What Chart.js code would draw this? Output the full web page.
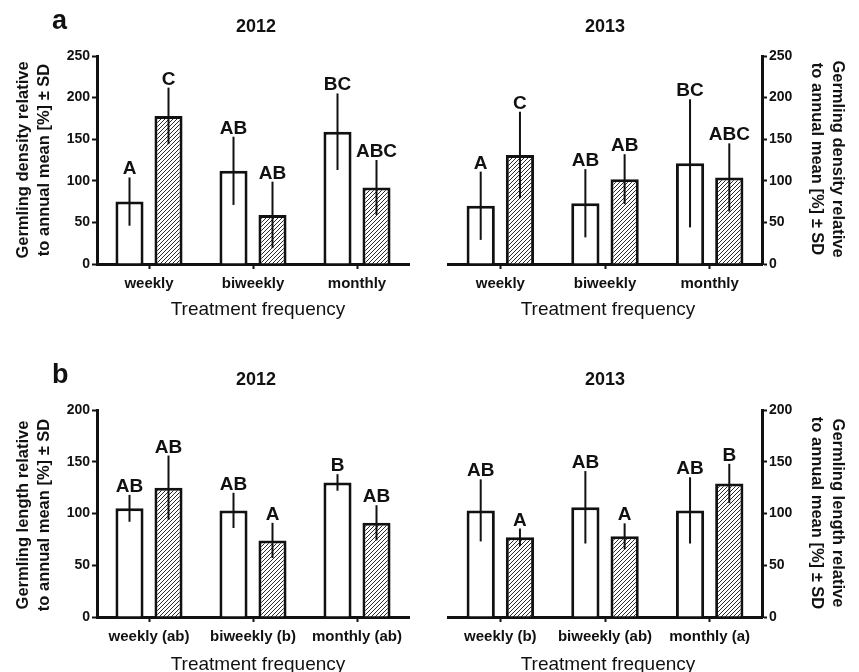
<!DOCTYPE html>
<html>
<head>
<meta charset="utf-8">
<script src="https://cdn.jsdelivr.net/npm/chart.js@4/dist/chart.umd.min.js"></script>
<style>
  html, body { margin: 0; padding: 0; background: #fff; }
  #wrap { position: relative; width: 859px; height: 672px; background: #fff; overflow: hidden; }
  canvas { position: absolute; }
</style>
</head>
<body>
<div id="wrap">
  <canvas id="aLeft" width="430" height="336" style="left:0;top:0"></canvas>
  <canvas id="aRight" width="429" height="336" style="left:430px;top:0"></canvas>
  <canvas id="bLeft" width="430" height="336" style="left:0;top:336px"></canvas>
  <canvas id="bRight" width="429" height="336" style="left:430px;top:336px"></canvas>
</div>
<script>
// ---------------- data ----------------
const categoriesA = ["weekly", "biweekly", "monthly"];
const categoriesB2012 = ["weekly (ab)", "biweekly (b)", "monthly (ab)"];
const categoriesB2013 = ["weekly (b)", "biweekly (ab)", "monthly (a)"];
const yTicksDensity = [0, 50, 100, 150, 200, 250];
const yTicksLength = [0, 50, 100, 150, 200];

// germling density 2012
const density2012Open = [75, 112, 159];
const density2012OpenSD = [29, 41, 46];
const density2012OpenLetters = ["A", "AB", "BC"];
const density2012Hatched = [178, 59, 92];
const density2012HatchedSD = [34, 40, 33];
const density2012HatchedLetters = ["C", "AB", "ABC"];

// germling density 2013
const density2013Open = [70, 73, 121];
const density2013OpenSD = [41, 41, 77];
const density2013OpenLetters = ["A", "AB", "BC"];
const density2013Hatched = [131, 102, 104];
const density2013HatchedSD = [52, 30, 41];
const density2013HatchedLetters = ["C", "AB", "ABC"];

// germling length 2012
const length2012Open = [105, 103, 130];
const length2012OpenSD = [13, 17, 8];
const length2012OpenLetters = ["AB", "AB", "B"];
const length2012Hatched = [125, 74, 91];
const length2012HatchedSD = [31, 17, 17];
const length2012HatchedLetters = ["AB", "A", "AB"];

// germling length 2013
const length2013Open = [103, 106, 103];
const length2013OpenSD = [30, 35, 32];
const length2013OpenLetters = ["AB", "AB", "AB"];
const length2013Hatched = [77, 78, 129];
const length2013HatchedSD = [8.5, 12.5, 19];
const length2013HatchedLetters = ["A", "A", "B"];

const yTitleDensity = ["Germling density relative", "to annual mean [%] \u00b1 SD"];
const yTitleLength = ["Germling length relative", "to annual mean [%] \u00b1 SD"];
const xTitle = "Treatment frequency";

// ---------------- styling ----------------
const FONT = "'Liberation Sans', Arial, Helvetica, sans-serif";
const INK = "#111111";
Chart.defaults.font.family = FONT;
Chart.defaults.color = INK;

function makeHatch() {
  const c = document.createElement('canvas');
  c.width = 4; c.height = 4;
  const g = c.getContext('2d');
  g.fillStyle = '#ffffff';
  g.fillRect(0, 0, 4, 4);
  g.strokeStyle = '#2a2a2a';
  g.lineWidth = 1;
  g.beginPath();
  g.moveTo(0, 4); g.lineTo(4, 0);
  g.moveTo(-1, 1); g.lineTo(1, -1);
  g.moveTo(3, 5); g.lineTo(5, 3);
  g.stroke();
  return g.createPattern(c, 'repeat');
}
const hatch = makeHatch();

// error bars + significance letters
const errorPlugin = {
  id: 'errorLetters',
  afterDatasetsDraw(chart) {
    const ctx = chart.ctx;
    const ys = chart.scales.y;
    chart.data.datasets.forEach((ds, i) => {
      const meta = chart.getDatasetMeta(i);
      meta.data.forEach((el, j) => {
        const v = ds.data[j], sd = ds.errors[j];
        const top = ys.getPixelForValue(v + sd);
        const bot = ys.getPixelForValue(v - sd);
        ctx.save();
        ctx.strokeStyle = INK;
        ctx.lineWidth = 2;
        ctx.beginPath();
        ctx.moveTo(el.x, bot);
        ctx.lineTo(el.x, top);
        ctx.stroke();
        ctx.fillStyle = INK;
        ctx.font = "bold 19px " + FONT;
        ctx.textAlign = 'center';
        ctx.textBaseline = 'alphabetic';
        ctx.fillText(ds.letters[j], el.x, top - 3);
        ctx.restore();
      });
    });
  }
};

// titles and axis titles
const textPlugin = {
  id: 'panelText',
  afterDraw(chart, args, o) {
    const ctx = chart.ctx;
    ctx.save();
    ctx.fillStyle = INK;
    // year title
    ctx.font = "bold 18px " + FONT;
    ctx.textAlign = 'center';
    ctx.textBaseline = 'alphabetic';
    ctx.fillText(o.title, o.titleX, o.titleY);
    // panel letter
    if (o.letter) {
      ctx.font = "bold 27px " + FONT;
      ctx.textAlign = 'left';
      ctx.fillText(o.letter, o.letterX, o.letterY);
    }
    // x title
    ctx.font = "19px " + FONT;
    ctx.textAlign = 'center';
    ctx.fillText(o.xTitle, o.xTitleX, o.xTitleY);
    // y title
    ctx.font = "bold 16.5px " + FONT;
    ctx.textAlign = 'center';
    ctx.textBaseline = 'middle';
    o.yTitle.forEach((line, k) => {
      ctx.save();
      if (o.side === 'left') {
        ctx.translate(o.yTitleX + k * 21, o.yTitleY);
        ctx.rotate(-Math.PI / 2);
      } else {
        ctx.translate(o.yTitleX - k * 21, o.yTitleY);
        ctx.rotate(Math.PI / 2);
      }
      ctx.fillText(line, 0, 0);
      ctx.restore();
    });
    ctx.restore();
  }
};

function build(id, cfg) {
  const side = cfg.side;
  const ticks = cfg.ticks;
  return new Chart(document.getElementById(id), {
    type: 'bar',
    data: {
      labels: cfg.labels,
      datasets: [
        { data: cfg.open, errors: cfg.openSD, letters: cfg.openLetters,
          backgroundColor: '#ffffff', borderColor: INK, borderWidth: 3 },
        { data: cfg.hatched, errors: cfg.hatchedSD, letters: cfg.hatchedLetters,
          backgroundColor: hatch, borderColor: INK, borderWidth: 3 }
      ]
    },
    options: {
      responsive: false,
      animation: false,
      events: [],
      layout: { padding: cfg.padding },
      plugins: {
        legend: { display: false },
        tooltip: { enabled: false },
        title: { display: false },
        panelText: cfg.text
      },
      datasets: { bar: { categoryPercentage: 0.75, barPercentage: 0.72 } },
      scales: {
        x: {
          type: 'category',
          offset: true,
          grid: { display: true, drawOnChartArea: false, drawTicks: true, offset: false,
                  tickLength: 5, tickWidth: 2, tickColor: INK, color: INK },
          border: { display: true, width: 3, color: INK },
          ticks: { font: { size: 15, weight: 'bold' }, color: INK, padding: 6, maxRotation: 0, autoSkip: false },
          afterFit: s => { s.height = cfg.xHeight; }
        },
        y: {
          position: side,
          min: ticks[0],
          max: ticks[ticks.length - 1],
          afterBuildTicks: s => { s.ticks = ticks.map(v => ({ value: v })); },
          grid: { display: true, drawOnChartArea: false, drawTicks: true,
                  tickLength: 5, tickWidth: 2, tickColor: INK, color: INK },
          border: { display: true, width: 3, color: INK },
          ticks: { font: { size: 14, weight: 'bold' }, color: INK, padding: 2 },
          afterFit: s => { s.width = 97; }
        }
      }
    },
    plugins: [errorPlugin, textPlugin]
  });
}

build('aLeft', {
  side: 'left', ticks: yTicksDensity, labels: categoriesA,
  open: density2012Open, openSD: density2012OpenSD, openLetters: density2012OpenLetters,
  hatched: density2012Hatched, hatchedSD: density2012HatchedSD, hatchedLetters: density2012HatchedLetters,
  padding: { left: 0, right: 21, top: 56, bottom: 0 }, xHeight: 72,
  text: { title: "2012", titleX: 256, titleY: 32, letter: "a", letterX: 52, letterY: 29,
          xTitle: xTitle, xTitleX: 258, xTitleY: 315,
          yTitle: yTitleDensity, side: 'left', yTitleX: 23, yTitleY: 160 }
});

build('aRight', {
  side: 'right', ticks: yTicksDensity, labels: categoriesA,
  open: density2013Open, openSD: density2013OpenSD, openLetters: density2013OpenLetters,
  hatched: density2013Hatched, hatchedSD: density2013HatchedSD, hatchedLetters: density2013HatchedLetters,
  padding: { left: 18, right: 0, top: 56, bottom: 0 }, xHeight: 72,
  text: { title: "2013", titleX: 175, titleY: 32, letter: null,
          xTitle: xTitle, xTitleX: 178, xTitleY: 315,
          yTitle: yTitleDensity, side: 'right', yTitleX: 408, yTitleY: 159 }
});

build('bLeft', {
  side: 'left', ticks: yTicksLength, labels: categoriesB2012,
  open: length2012Open, openSD: length2012OpenSD, openLetters: length2012OpenLetters,
  hatched: length2012Hatched, hatchedSD: length2012HatchedSD, hatchedLetters: length2012HatchedLetters,
  padding: { left: 0, right: 21, top: 74, bottom: 0 }, xHeight: 55,
  text: { title: "2012", titleX: 256, titleY: 49, letter: "b", letterX: 52, letterY: 47,
          xTitle: xTitle, xTitleX: 258, xTitleY: 334,
          yTitle: yTitleLength, side: 'left', yTitleX: 23, yTitleY: 179 }
});

build('bRight', {
  side: 'right', ticks: yTicksLength, labels: categoriesB2013,
  open: length2013Open, openSD: length2013OpenSD, openLetters: length2013OpenLetters,
  hatched: length2013Hatched, hatchedSD: length2013HatchedSD, hatchedLetters: length2013HatchedLetters,
  padding: { left: 18, right: 0, top: 74, bottom: 0 }, xHeight: 55,
  text: { title: "2013", titleX: 175, titleY: 49, letter: null,
          xTitle: xTitle, xTitleX: 178, xTitleY: 334,
          yTitle: yTitleLength, side: 'right', yTitleX: 408, yTitleY: 177 }
});
</script>
</body>
</html>
